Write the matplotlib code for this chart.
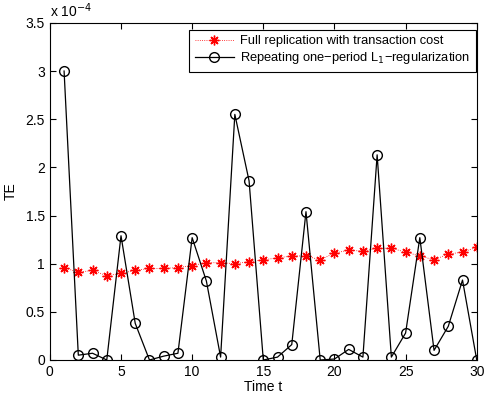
import numpy as np
import matplotlib.pyplot as plt
from matplotlib.ticker import FuncFormatter, MultipleLocator

plt.rcParams['font.family'] = ['Liberation Sans', 'DejaVu Sans']
plt.rcParams['font.size'] = 10

t = np.arange(1, 31)
# TE values in units of 1e-4
full_rep = [0.96, 0.91, 0.93, 0.875, 0.90, 0.93, 0.95, 0.95, 0.96, 0.98,
            1.01, 1.01, 1.00, 1.02, 1.04, 1.06, 1.08, 1.08, 1.04, 1.11,
            1.14, 1.13, 1.16, 1.16, 1.12, 1.08, 1.04, 1.10, 1.12, 1.17]
l1_reg = [3.00, 0.05, 0.07, 0.00, 1.29, 0.38, 0.00, 0.04, 0.07, 1.27,
          0.82, 0.03, 2.55, 1.86, 0.00, 0.03, 0.16, 1.54, 0.00, 0.01,
          0.11, 0.03, 2.13, 0.03, 0.28, 1.27, 0.10, 0.35, 0.83, 0.00]
scale = 1e-4

fig = plt.figure(figsize=(4.84, 3.98), dpi=100)
ax = fig.add_axes([0.103, 0.0955, 0.882, 0.847])

ax.plot(t, np.array(full_rep) * scale, color='red', linestyle=':', linewidth=0.6,
        marker=(8, 2, 0), markersize=7, markeredgewidth=1.0,
        label="Full replication with transaction cost")
ax.plot(t, np.array(l1_reg) * scale, 'k-', marker='o', markerfacecolor='none',
        markersize=7, linewidth=0.9, label="Repeating one\u2212period L$_1$\u2212regularization")

ax.set_xlim(0, 30)
ax.set_ylim(0, 3.5e-4)
ax.xaxis.set_major_locator(MultipleLocator(5))
ax.yaxis.set_major_locator(MultipleLocator(0.5e-4))
ax.yaxis.set_major_formatter(FuncFormatter(lambda v, p: "%g" % round(v / scale, 2)))
ax.tick_params(direction='in', top=True, right=True, length=4)
ax.text(0, 1.01, "x 10$^{-4}$", transform=ax.transAxes, ha='left', va='bottom')

ax.set_xlabel("Time t", labelpad=1)
ax.set_ylabel("TE", labelpad=6)
leg = ax.legend(loc='upper right', bbox_to_anchor=(0.998, 0.98), fancybox=False,
                edgecolor='black', borderaxespad=0, handlelength=3.0, handletextpad=0.5,
                borderpad=0.45, labelspacing=0.2, framealpha=1, fontsize=9.3)
leg.get_frame().set_linewidth(0.8)

fig.savefig("out.png", dpi=100)
